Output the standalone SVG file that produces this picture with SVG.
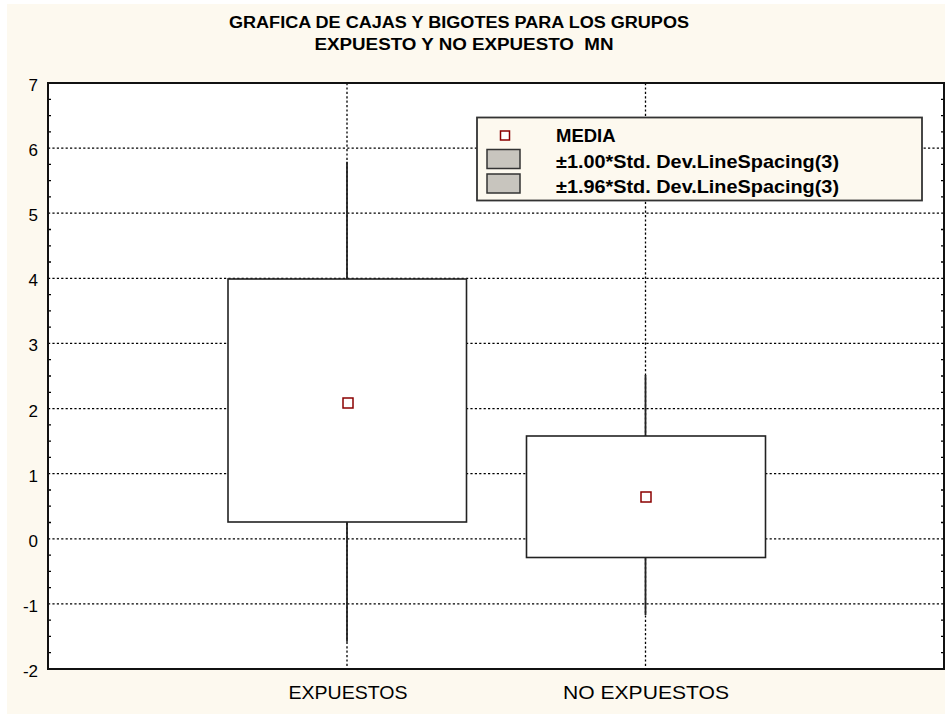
<svg xmlns="http://www.w3.org/2000/svg" width="945" height="714" viewBox="0 0 945 714">
<style>
text{font-family:"Liberation Sans",Arial,sans-serif;fill:#000}
.title{font-size:16px;font-weight:bold;text-anchor:middle}
.ylab{font-size:17px;text-anchor:end}
.xlab{font-size:18px;text-anchor:middle}
.leg{font-size:18.5px;font-weight:bold}
.grid{stroke:#000;stroke-width:1.3;stroke-dasharray:2.2 2.2;fill:none}
.tick{stroke:#000;stroke-width:1.3}
.box{fill:#fff;stroke:#222;stroke-width:1.6}
.whisk{stroke:#222;stroke-width:1.8}
.mean{fill:#fff;stroke:#8b0000;stroke-width:1.5}
.swatch{fill:#c8c5be;stroke:#333;stroke-width:1.5}
</style>
<rect x="7" y="4" width="938" height="710" fill="#fdf9ef"/>
<text class="title" x="459" y="27.5" textLength="460" lengthAdjust="spacingAndGlyphs">GRAFICA DE CAJAS Y BIGOTES PARA LOS GRUPOS</text>
<text class="title" x="464" y="50" textLength="299" lengthAdjust="spacingAndGlyphs" xml:space="preserve">EXPUESTO Y NO EXPUESTO  MN</text>
<g id="plot">
<rect x="48" y="83" width="896" height="586" fill="#fff"/>
<g id="grid">
<line class="grid" x1="48" y1="148.1" x2="944" y2="148.1"/>
<line class="grid" x1="48" y1="213.2" x2="944" y2="213.2"/>
<line class="grid" x1="48" y1="278.3" x2="944" y2="278.3"/>
<line class="grid" x1="48" y1="343.4" x2="944" y2="343.4"/>
<line class="grid" x1="48" y1="408.6" x2="944" y2="408.6"/>
<line class="grid" x1="48" y1="473.7" x2="944" y2="473.7"/>
<line class="grid" x1="48" y1="538.8" x2="944" y2="538.8"/>
<line class="grid" x1="48" y1="603.9" x2="944" y2="603.9"/>
<line class="grid" x1="347" y1="83" x2="347" y2="669"/>
<line class="grid" x1="645.5" y1="83" x2="645.5" y2="669"/>
</g>
<g id="ticks">
<path class="tick" d="M48 99.3h3M48 115.6h3M48 131.8h3M48 164.4h3M48 180.7h3M48 196.9h3M48 229.5h3M48 245.8h3M48 262h3M48 294.6h3M48 310.9h3M48 327.1h3M48 359.7h3M48 376h3M48 392.3h3M48 424.9h3M48 441.1h3M48 457.4h3M48 490h3M48 506.2h3M48 522.5h3M48 555.1h3M48 571.3h3M48 587.6h3M48 620.2h3M48 636.4h3M48 652.7h3"/>
<path class="tick" d="M944 99.3h-3M944 115.6h-3M944 131.8h-3M944 164.4h-3M944 180.7h-3M944 196.9h-3M944 229.5h-3M944 245.8h-3M944 262h-3M944 294.6h-3M944 310.9h-3M944 327.1h-3M944 359.7h-3M944 376h-3M944 392.3h-3M944 424.9h-3M944 441.1h-3M944 457.4h-3M944 490h-3M944 506.2h-3M944 522.5h-3M944 555.1h-3M944 571.3h-3M944 587.6h-3M944 620.2h-3M944 636.4h-3M944 652.7h-3"/>
</g>
</g>
<g id="connectors">
<line class="whisk" x1="347" y1="161.7" x2="347" y2="279"/>
<line class="whisk" x1="347" y1="522" x2="347" y2="641.7"/>
<line class="whisk" x1="645.5" y1="375" x2="645.5" y2="436"/>
<line class="whisk" x1="645.5" y1="557.5" x2="645.5" y2="615"/>
</g>
<g id="expuestos">
<rect class="box" x="228" y="279" width="238.5" height="243"/>
<rect class="mean" x="343" y="398" width="10" height="10"/>
</g>
<g id="no-expuestos">
<rect class="box" x="526.5" y="436" width="239" height="121.5"/>
<rect class="mean" x="641" y="492" width="10" height="10"/>
</g>
<rect x="48" y="83" width="896" height="586" fill="none" stroke="#111" stroke-width="2"/>
<g id="ylabels">
<text class="ylab" x="38" y="91">7</text>
<text class="ylab" x="38" y="156">6</text>
<text class="ylab" x="38" y="221">5</text>
<text class="ylab" x="38" y="286">4</text>
<text class="ylab" x="38" y="351">3</text>
<text class="ylab" x="38" y="416.5">2</text>
<text class="ylab" x="38" y="481.5">1</text>
<text class="ylab" x="38" y="546.5">0</text>
<text class="ylab" x="38" y="611.5">-1</text>
<text class="ylab" x="38" y="676.5">-2</text>
</g>
<g id="xlabels">
<text class="xlab" x="348" y="699" textLength="119" lengthAdjust="spacingAndGlyphs">EXPUESTOS</text>
<text class="xlab" x="646" y="699" textLength="166" lengthAdjust="spacingAndGlyphs">NO EXPUESTOS</text>
</g>
<g id="legend">
<rect x="477" y="117.5" width="445" height="83" fill="#fdf9ef" stroke="#333" stroke-width="1.8"/>
<rect class="mean" x="500.5" y="131" width="9" height="9"/>
<text class="leg" x="556" y="141.5">MEDIA</text>
<rect class="swatch" x="487" y="149.5" width="33" height="19"/>
<text class="leg" x="556" y="168" textLength="283" lengthAdjust="spacingAndGlyphs">±1.00*Std. Dev.LineSpacing(3)</text>
<rect class="swatch" x="487" y="174" width="33" height="19"/>
<text class="leg" x="556" y="192.5" textLength="283" lengthAdjust="spacingAndGlyphs">±1.96*Std. Dev.LineSpacing(3)</text>
</g>
</svg>
